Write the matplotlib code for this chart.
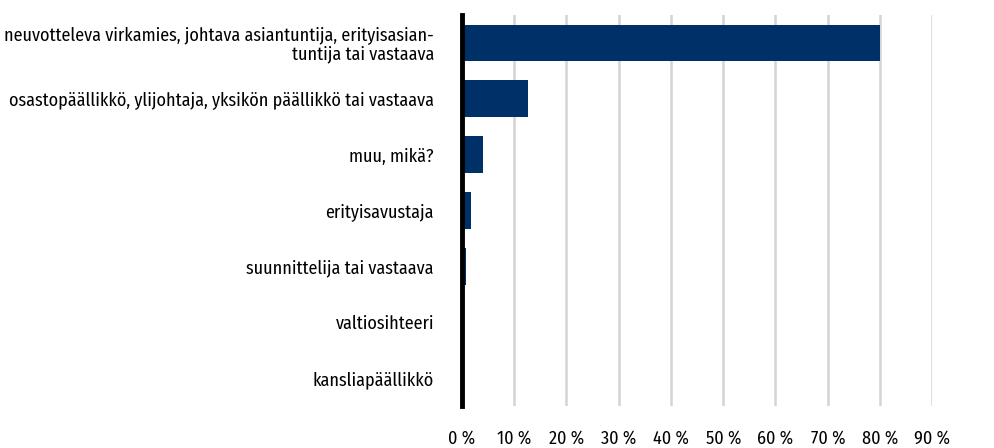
import matplotlib
matplotlib.use("Agg")
import matplotlib.pyplot as plt
import matplotlib.ticker as mticker

# Categories top -> bottom, share of respondents (%)
categories = [
    "neuvotteleva virkamies, johtava asiantuntija, erityisasian-\ntuntija tai vastaava",
    "osastopäällikkö, ylijohtaja, yksikön päällikkö tai vastaava",
    "muu, mikä?",
    "erityisavustaja",
    "suunnittelija tai vastaava",
    "valtiosihteeri",
    "kansliapäällikkö",
]
shares = [80.0, 12.7, 4.0, 1.7, 0.8, 0.0, 0.0]
x_ticks = [0, 10, 20, 30, 40, 50, 60, 70, 80, 90]

BAR_COLOR = "#003068"
GRID_COLOR = "#d4d4d4"

# condensed face to mimic the original; falls back if missing
plt.rcParams["font.family"] = ["Fira Sans Condensed", "DejaVu Sans"]

fig = plt.figure(figsize=(9.94, 4.48), dpi=100)
ax = fig.add_axes([0.4645, 0.094, 0.938 - 0.4645, 0.8725])

y = list(range(len(categories)))
ax.barh(y, shares, height=0.66, color=BAR_COLOR, zorder=3)

ax.set_xlim(0, 90)
ax.set_ylim(len(categories) - 0.5, -0.5)
ax.set_xticks(x_ticks)
ax.xaxis.set_major_formatter(mticker.FuncFormatter(lambda v, _: f"{v:.0f} %"))
ax.set_yticks(y)
ax.set_yticklabels(categories, fontsize=13, multialignment="right",
                   linespacing=1.0)

ax.grid(axis="x", color=GRID_COLOR, linewidth=1.8, zorder=0)
ax.set_axisbelow(True)
for side in ("top", "right", "bottom"):
    ax.spines[side].set_visible(False)
ax.spines["left"].set_linewidth(3.5)
ax.spines["left"].set_color("black")
ax.spines["left"].set_zorder(4)

ax.tick_params(axis="x", length=0, pad=17, labelsize=13)
ax.tick_params(axis="y", length=0, pad=20)

fig.savefig("out.png", dpi=100, facecolor="white")
